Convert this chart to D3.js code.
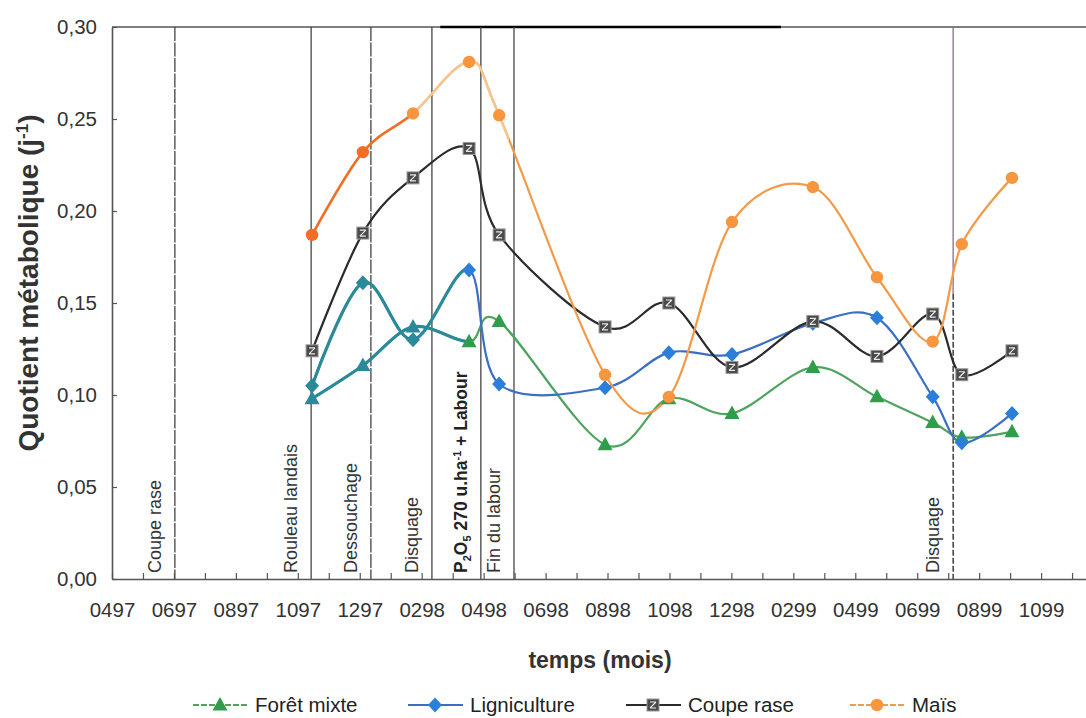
<!DOCTYPE html>
<html>
<head>
<meta charset="utf-8">
<script src="https://cdn.jsdelivr.net/npm/d3@7"></script>
<style>
  body { margin: 0; background: #fff; }
  svg { display: block; font-family: "Liberation Sans", Arial, sans-serif; }
</style>
</head>
<body>
<div id="chart"></div>
<script>
// Time in months counted from April 1997 (0497 = 0)
const tickLabels = ['0497', '0697', '0897', '1097', '1297', '0298', '0498', '0698',
                    '0898', '1098', '1298', '0299', '0499', '0699', '0899', '1099'];
const sampleMonths = [6.46, 8.1, 9.72, 11.53, 12.5, 15.92, 17.98, 20.02, 22.63, 24.7, 26.5, 27.44, 29.06];

// Quotient métabolique (j-1) per site
const foretMixte   = [0.098, 0.116, 0.137, 0.129, 0.140, 0.073, 0.098, 0.090, 0.115, 0.099, 0.085, 0.077, 0.080];
const ligniculture = [0.105, 0.161, 0.130, 0.168, 0.106, 0.104, 0.123, 0.122, 0.139, 0.142, 0.099, 0.074, 0.090];
const coupeRase    = [0.124, 0.188, 0.218, 0.234, 0.187, 0.137, 0.150, 0.115, 0.140, 0.121, 0.144, 0.111, 0.124];
const mais         = [0.187, 0.232, 0.253, 0.281, 0.252, 0.111, 0.099, 0.194, 0.213, 0.164, 0.129, 0.182, 0.218];

const yTicks = [0, 0.05, 0.10, 0.15, 0.20, 0.25, 0.30];

// field operations (vertical lines)
const eventNames  = ['Coupe rase', 'Rouleau landais', 'Dessouchage', 'Disquage', 'P2O5', 'Fin du labour', 'Disquage'];
const eventMonths = [2.03, 6.43, 8.36, 10.33, 11.91, 12.98, 27.16];

class LineChart {

  constructor(_config) {
    this.config = {
      parentElement: _config.parentElement,
      containerWidth: 1086,
      containerHeight: 718,
      margin: { top: 27, right: 0, bottom: 139, left: 112 }
    };
    this.initVis();
  }

  initVis() {
    let vis = this;
    vis.width = vis.config.containerWidth - vis.config.margin.left - vis.config.margin.right;
    vis.height = vis.config.containerHeight - vis.config.margin.top - vis.config.margin.bottom;

    vis.xScale = d3.scaleLinear().domain([0, 31.45]).range([0, vis.width]);
    vis.yScale = d3.scaleLinear().domain([0, 0.30]).range([vis.height, 0]);

    vis.xAxis = d3.axisBottom(vis.xScale)
        .tickValues(d3.range(0, 32))
        .tickSizeInner(-6)
        .tickSizeOuter(0)
        .tickPadding(23)
        .tickFormat(d => d % 2 === 0 ? tickLabels[d / 2] : '');

    vis.yAxis = d3.axisLeft(vis.yScale)
        .tickValues(yTicks)
        .tickSizeInner(-5)
        .tickSizeOuter(0)
        .tickPadding(15)
        .tickFormat(d => d.toFixed(2).replace('.', ','));

    vis.svg = d3.select(vis.config.parentElement).append('svg')
        .attr('width', vis.config.containerWidth)
        .attr('height', vis.config.containerHeight);

    vis.chart = vis.svg.append('g')
        .attr('transform', `translate(${vis.config.margin.left}, ${vis.config.margin.top})`);

    const defs = vis.svg.append('defs');
    const clip = (id, x0, x1) => defs.append('clipPath').attr('id', id)
        .append('rect').attr('x', x0).attr('y', -20).attr('width', x1 - x0).attr('height', vis.height + 40);
    clip('early', -10, vis.xScale(sampleMonths[3]) - 2);
    clip('maisEarly', -10, vis.xScale(sampleMonths[2]) + 4);
    clip('maisPale', vis.xScale(sampleMonths[2]) + 4, vis.xScale(sampleMonths[4]) + 10);
  }

  updateVis() {
    let vis = this;
    vis.series = [
      { name: 'Forêt mixte', values: foretMixte, color: '#4ea35f', marker: '#2f9d4b', shape: 'triangle' },
      { name: 'Ligniculture', values: ligniculture, color: '#3a6fc4', marker: '#2b7fda', shape: 'diamond' },
      { name: 'Coupe rase', values: coupeRase, color: '#2b2b2b', marker: '#4a4a4a', shape: 'square' },
      { name: 'Maïs', values: mais, color: '#f39a48', marker: '#f7963f', shape: 'circle' }
    ];
    vis.series.forEach(s => {
      s.points = s.values.map((v, i) => ({ m: sampleMonths[i], v: v, i: i }));
    });
    vis.renderVis();
  }

  drawMarker(sel, shape, fill) {
    if (shape === 'circle') {
      sel.append('circle').attr('r', 6.2).attr('fill', fill);
    } else if (shape === 'square') {
      sel.append('rect').attr('x', -6).attr('y', -6).attr('width', 12).attr('height', 12)
          .attr('fill', fill).attr('stroke', '#9a9a9a').attr('stroke-width', 1);
      sel.append('path').attr('d', 'M-3,-3h6M-3,3h6M-3,3L3,-3')
          .attr('stroke', '#e8e8e8').attr('stroke-width', 1.2).attr('fill', 'none');
    } else if (shape === 'diamond') {
      sel.append('path').attr('d', 'M0,-7.5L7,0L0,7.5L-7,0Z').attr('fill', fill);
    } else {
      sel.append('path').attr('d', 'M0,-8L7.5,5.5L-7.5,5.5Z').attr('fill', fill);
    }
  }

  renderVis() {
    let vis = this;
    const teal = '#2b8a99';

    // frame
    vis.chart.append('line')
        .attr('x1', 0).attr('x2', vis.width).attr('y1', 0).attr('y2', 0)
        .attr('stroke', '#555').attr('stroke-width', 1.5);
    vis.chart.append('line')
        .attr('x1', vis.xScale(10.6)).attr('x2', vis.xScale(21.6)).attr('y1', 0).attr('y2', 0)
        .attr('stroke', '#000').attr('stroke-width', 2.5);

    // event lines + labels
    const ev = vis.chart.selectAll('.event')
        .data(eventNames.map((n, i) => ({ name: n, m: eventMonths[i] })))
        .enter().append('g')
        .attr('class', 'event')
        .attr('transform', d => `translate(${vis.xScale(d.m)},0)`);

    ev.append('line')
        .attr('y1', 0).attr('y2', (d, i) => i === 6 ? vis.yScale(0.155) : vis.height)
        .attr('stroke', (d, i) => i === 6 ? '#8a6d8a' : '#444')
        .attr('stroke-width', 1.3)
        .attr('stroke-dasharray', (d, i) => (i === 0 || i === 2) ? '14,1.5' : null);
    // lower part of the last line is dashed black
    ev.filter((d, i) => i === 6).append('line')
        .attr('y1', vis.yScale(0.155)).attr('y2', vis.height)
        .attr('stroke', '#222').attr('stroke-width', 1.3)
        .attr('stroke-dasharray', '6,2');

    const labels = ev.append('text')
        .attr('transform', `translate(-14, ${vis.height - 6}) rotate(-90)`)
        .attr('fill', '#333')
        .attr('font-size', 18);

    labels.each(function(d) {
      const t = d3.select(this);
      if (d.name === 'P2O5') {
        t.attr('font-weight', 'bold').attr('font-size', 17.5).attr('fill', '#222');
        t.append('tspan').text('P');
        t.append('tspan').attr('dy', 4).attr('font-size', 11).text('2');
        t.append('tspan').attr('dy', -4).text('O');
        t.append('tspan').attr('dy', 4).attr('font-size', 11).text('5');
        t.append('tspan').attr('dy', -4).text(' 270 u.ha');
        t.append('tspan').attr('dy', -6).attr('font-size', 11).text('-1');
        t.append('tspan').attr('dy', 6).text(' + Labour');
      } else {
        t.text(d.name);
      }
    });

    // axes
    vis.xAxisG = vis.chart.append('g')
        .attr('transform', `translate(0, ${vis.height})`)
        .call(vis.xAxis);
    vis.yAxisG = vis.chart.append('g').call(vis.yAxis);

    [vis.xAxisG, vis.yAxisG].forEach(g => {
      g.select('.domain').attr('stroke', '#555').attr('stroke-width', 1.6);
      g.selectAll('.tick line').attr('stroke', '#555').attr('stroke-width', 1.2);
      g.selectAll('.tick text').attr('font-size', 20.5).attr('fill', '#333')
          .attr('font-family', '"Liberation Sans", Arial, sans-serif');
    });

    // axis titles
    vis.svg.append('text')
        .attr('x', 600).attr('y', 668)
        .attr('text-anchor', 'middle')
        .attr('font-weight', 'bold').attr('font-size', 23).attr('fill', '#333')
        .text('temps (mois)');

    const yTitle = vis.svg.append('text')
        .attr('transform', 'translate(38, 283) rotate(-90)')
        .attr('text-anchor', 'middle')
        .attr('font-weight', 'bold').attr('font-size', 28).attr('fill', '#333');
    yTitle.append('tspan').text('Quotient métabolique (j');
    yTitle.append('tspan').attr('dy', -10).attr('font-size', 17).text('-1');
    yTitle.append('tspan').attr('dy', 10).text(')');

    // lines
    const line = d3.line()
        .x(d => vis.xScale(d.m))
        .y(d => vis.yScale(d.v))
        .curve(d3.curveCardinal.tension(0));

    const lineG = vis.chart.append('g');
    vis.series.forEach(s => {
      lineG.append('path')
          .attr('d', line(s.points))
          .attr('fill', 'none')
          .attr('stroke', s.color)
          .attr('stroke-width', 2.2);
    });

    // early part of Forêt mixte / Ligniculture drawn in teal
    [vis.series[0], vis.series[1]].forEach(s => {
      lineG.append('path')
          .attr('d', line(s.points))
          .attr('clip-path', 'url(#early)')
          .attr('fill', 'none')
          .attr('stroke', teal)
          .attr('stroke-width', 3.2);
    });
    lineG.append('path')
        .attr('d', line(vis.series[3].points))
        .attr('clip-path', 'url(#maisEarly)')
        .attr('fill', 'none').attr('stroke', '#f26e26').attr('stroke-width', 2.4);
    lineG.append('path')
        .attr('d', line(vis.series[3].points))
        .attr('clip-path', 'url(#maisPale)')
        .attr('fill', 'none').attr('stroke', '#f7c690').attr('stroke-width', 2.4);

    // markers
    vis.series.forEach(s => {
      vis.chart.append('g').selectAll('.pt')
          .data(s.points)
          .enter().append('g')
          .attr('transform', d => `translate(${vis.xScale(d.m)},${vis.yScale(d.v)})`)
          .each(function(d) {
            let fill = s.marker;
            if (s.shape === 'triangle' || s.shape === 'diamond') fill = d.i < 3 ? teal : s.marker;
            if (s.shape === 'circle' && d.i < 2) fill = '#f26e26';
            vis.drawMarker(d3.select(this), s.shape, fill);
          });
    });

    // legend
    const legendX = [193, 408, 626, 850];
    const legend = vis.svg.append('g').selectAll('.legend')
        .data(vis.series)
        .enter().append('g')
        .attr('transform', (d, i) => `translate(${legendX[i]}, 705)`);
    legend.append('line')
        .attr('x1', 0).attr('x2', 55)
        .attr('stroke', d => d.color).attr('stroke-width', 2.2)
        .attr('stroke-dasharray', (d, i) => (i === 0 || i === 3) ? '6,2' : null);
    legend.append('g')
        .attr('transform', 'translate(27,0)')
        .each(function(d) { vis.drawMarker(d3.select(this), d.shape, d.marker); });
    legend.append('text')
        .attr('x', 62).attr('y', 7)
        .attr('font-size', 20.5).attr('fill', '#222')
        .text(d => d.name);
  }
}

const chart = new LineChart({ parentElement: '#chart' });
chart.updateVis();
</script>
</body>
</html>
